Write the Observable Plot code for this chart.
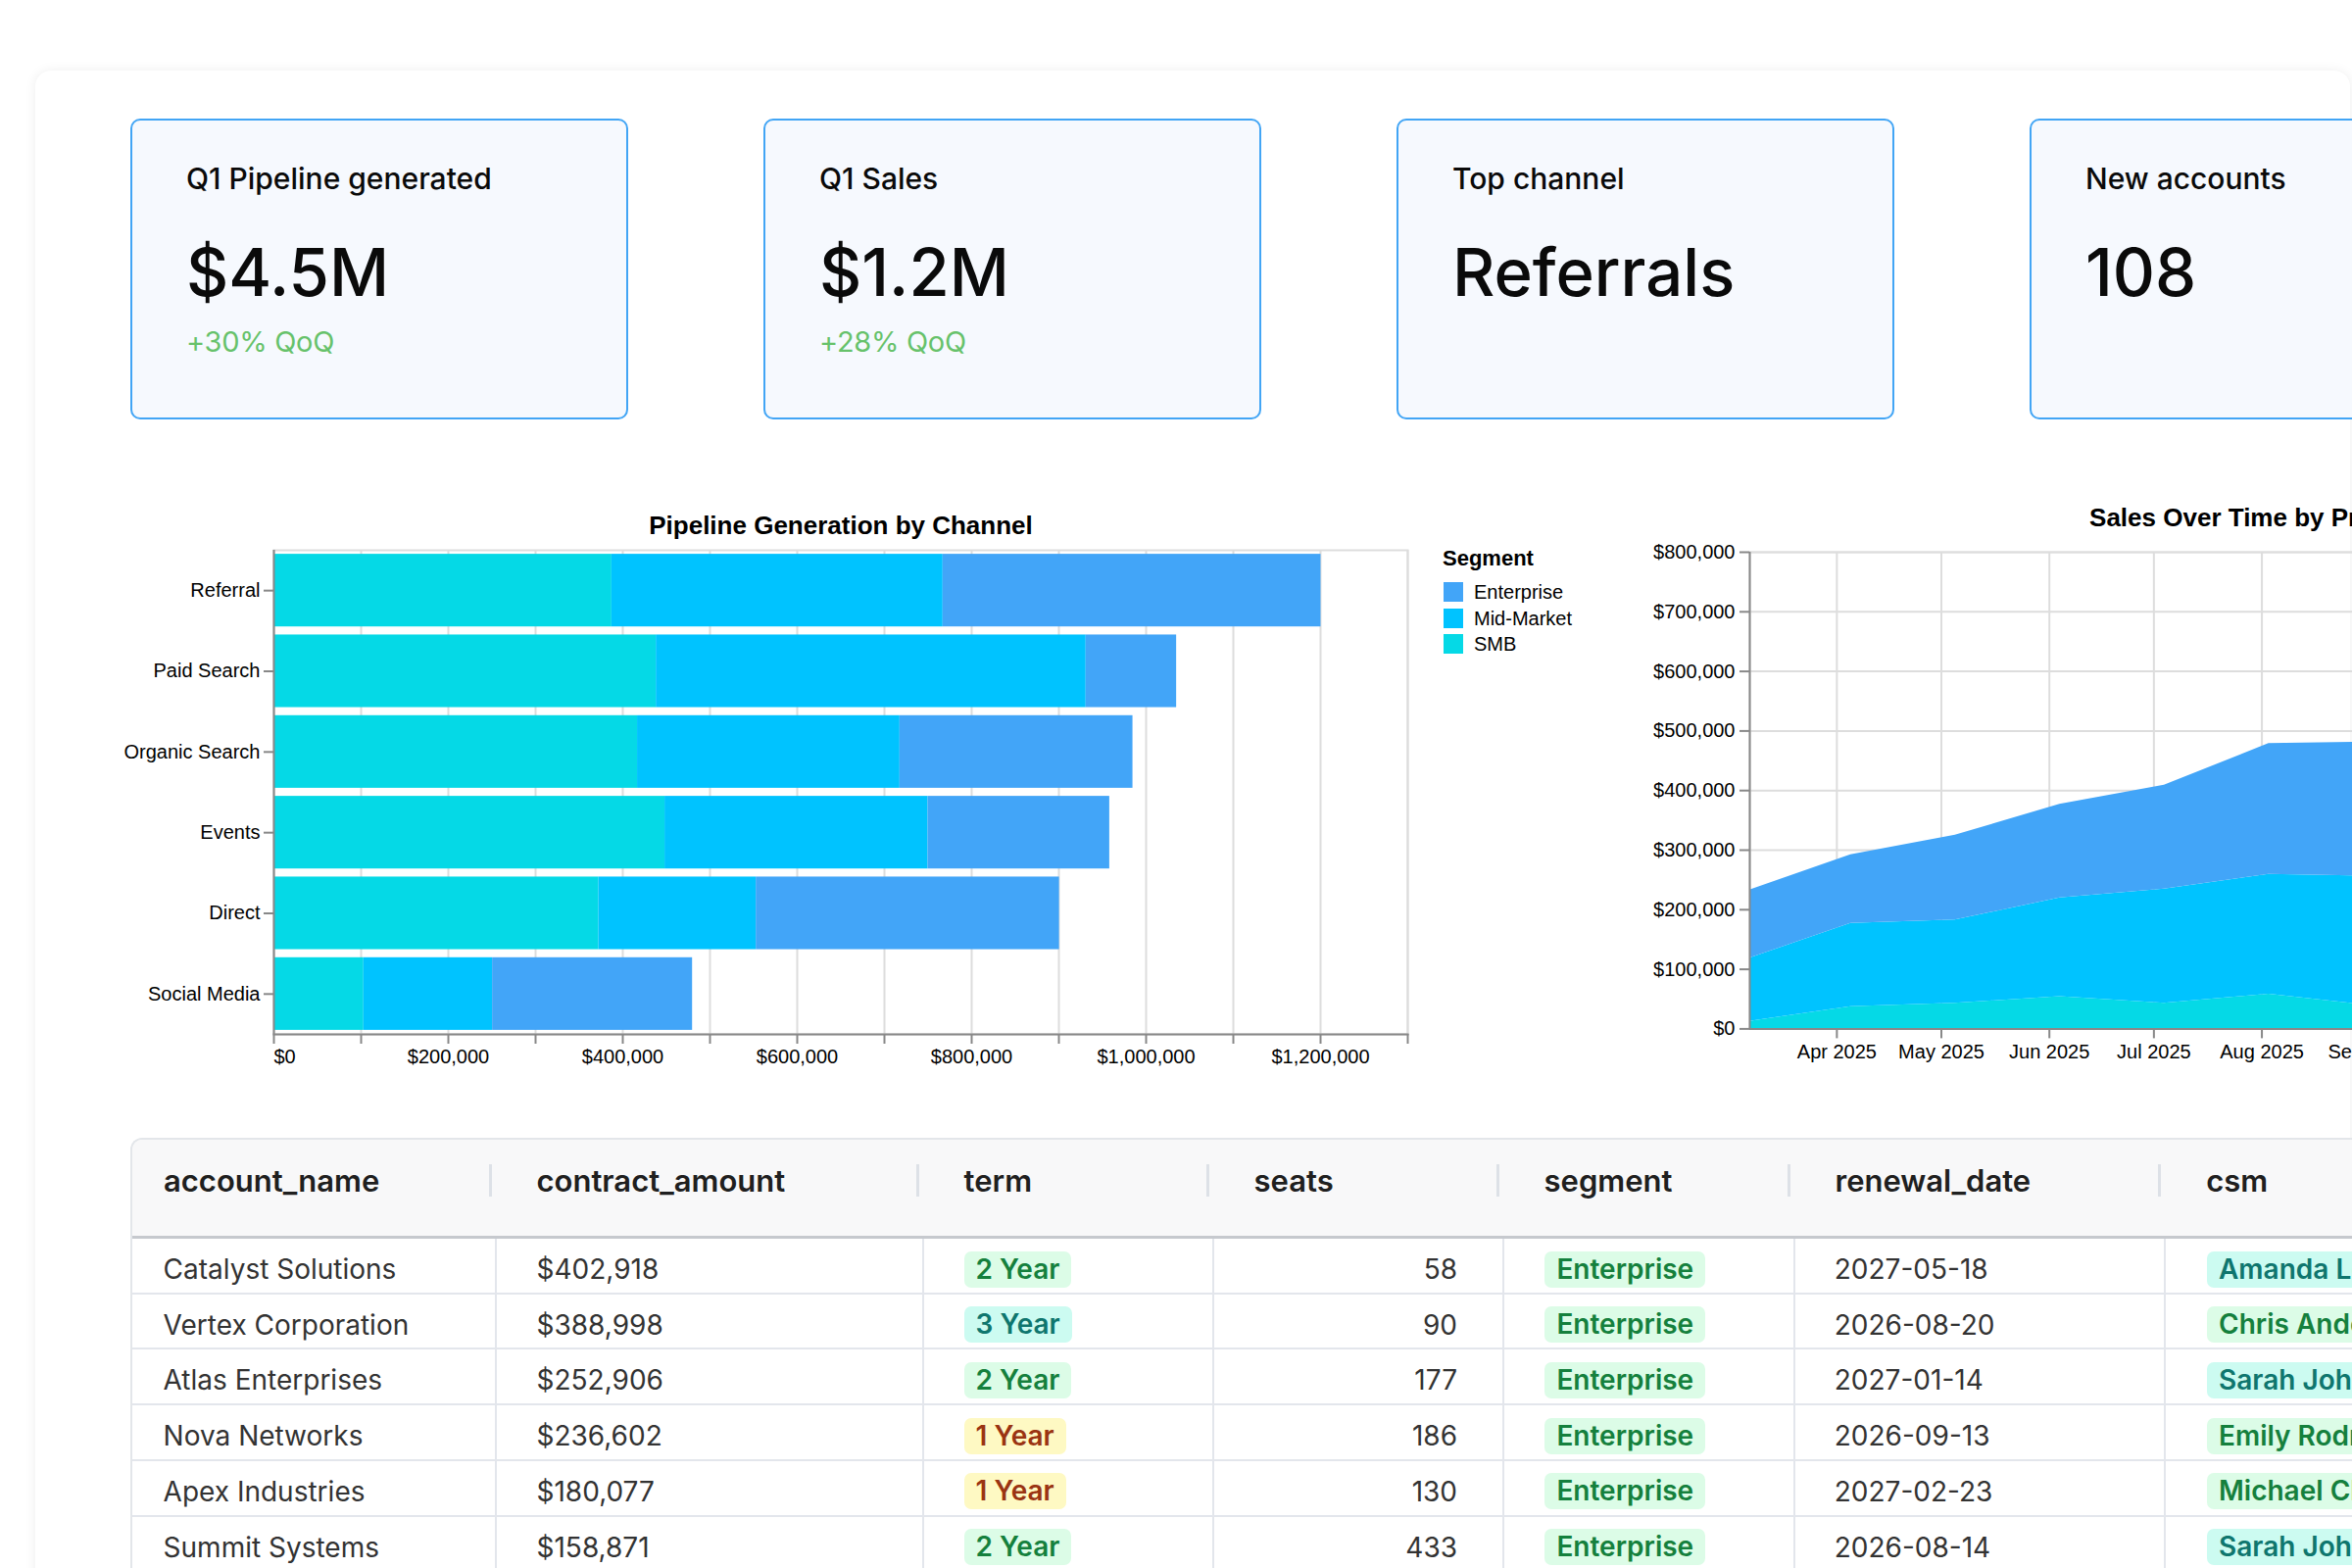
<!DOCTYPE html>
<html>
<head>
<meta charset="utf-8">
<script src="https://cdn.jsdelivr.net/npm/d3@7"></script>
<script src="https://cdn.jsdelivr.net/npm/@observablehq/plot@0.6"></script>
<style>
html,body{margin:0;padding:0;background:#fff;}
body{width:2400px;height:1600px;overflow:hidden;position:relative;font-family:Inter,"Noto Sans",sans-serif;}
.card{position:absolute;left:36px;top:72px;width:2362px;height:1600px;background:#fff;border-radius:16px;box-shadow:0 0 12px rgba(0,0,0,0.07);}
.kpi{position:absolute;top:121px;width:508px;height:307px;box-sizing:border-box;border:2px solid #42a5f5;border-radius:10px;background:#f6f9fe;}
.kpi div{position:absolute;left:55px;line-height:1;white-space:nowrap;color:#0a0a0a;}
.kpi .lab{top:44px;font-size:30px;font-weight:500;letter-spacing:0;}
.kpi .val{top:121px;font-size:67px;font-weight:500;letter-spacing:0;}
.kpi .dlt{top:211px;font-size:29px;font-weight:400;color:#67c26b;letter-spacing:-0.3px;}
.chart{position:absolute;}
.chart svg{max-width:none !important;}
.legend{position:absolute;left:1472px;top:559px;font-family:"Liberation Sans",Arial,sans-serif;color:#000;}
.legend .lt{font-size:22px;font-weight:bold;line-height:1;}
.legend .it{position:absolute;left:0;width:200px;height:20px;font-size:20px;line-height:20px;white-space:nowrap;}
.legend .sw{position:absolute;left:1px;top:0;width:20px;height:20px;}
.legend .tx{position:absolute;left:32px;top:0;}
.tbl{position:absolute;left:133px;top:1161px;width:2400px;height:600px;box-sizing:border-box;border:2px solid #e3e6ea;border-right:none;border-bottom:none;border-radius:12px 0 0 0;overflow:hidden;background:#fff;}
.abs{position:absolute;white-space:nowrap;line-height:1;}
.hdr{font-size:31px;font-weight:600;color:#1f1f1f;}
.cell{font-size:28px;font-weight:400;color:#333;}
.badge{font-size:28px;font-weight:600;height:37px;line-height:37px;padding:0 12px;border-radius:7px;}
.green{background:#dcfce7;color:#15803d;}
.teal{background:#ccfbf1;color:#0f766e;}
.yellow{background:#fef9c3;color:#9a3412;}
</style>
</head>
<body>
<div class="card"></div>
<div id="kpis"></div>
<div id="bar" class="chart" style="left:60px;top:500px;width:1400px;height:600px;"></div>
<div id="legend" class="legend"></div>
<div id="area" class="chart" style="left:1640px;top:500px;width:1203px;height:600px;"></div>
<div id="tbl" class="tbl"></div>
<script>
// ---------------- KPI data ----------------
const kpiLabels = ["Q1 Pipeline generated", "Q1 Sales", "Top channel", "New accounts"];
const kpiValues = ["$4.5M", "$1.2M", "Referrals", "108"];
const kpiDeltas = ["+30% QoQ", "+28% QoQ", "", ""];

// ---------------- Pipeline by channel ----------------
const channels = ["Referral", "Paid Search", "Organic Search", "Events", "Direct", "Social Media"];
const smbPipeline = [387500, 438400, 416900, 448400, 372500, 103100];
const midPipeline = [379700, 492800, 300900, 301600, 180500, 147600];
const entPipeline = [433300, 103800, 267100, 208300, 347700, 229300];
const segmentNames = ["Enterprise", "Mid-Market", "SMB"];
const segmentColors = ["#42a5f8", "#00c3ff", "#05d9e6"];

// ---------------- Sales over time ----------------
const salesDates = ["2025-03-07", "2025-04-05", "2025-05-05", "2025-06-04", "2025-07-04", "2025-08-03", "2025-09-02"];
const smbSales = [12700, 37300, 42900, 54000, 42900, 58200, 38800];
const midSales = [105900, 139700, 139800, 166000, 191800, 201200, 217200];
const entSales = [114400, 115000, 142300, 157000, 174300, 219400, 225600];

// ---------------- Table ----------------
const tableColumns = ["account_name", "contract_amount", "term", "seats", "segment", "renewal_date", "csm"];
const accountNames = ["Catalyst Solutions", "Vertex Corporation", "Atlas Enterprises", "Nova Networks", "Apex Industries", "Summit Systems"];
const contractAmounts = [402918, 388998, 252906, 236602, 180077, 158871];
const terms = ["2 Year", "3 Year", "2 Year", "1 Year", "1 Year", "2 Year"];
const seats = [58, 90, 177, 186, 130, 433];
const accountSegments = ["Enterprise", "Enterprise", "Enterprise", "Enterprise", "Enterprise", "Enterprise"];
const renewalDates = ["2027-05-18", "2026-08-20", "2027-01-14", "2026-09-13", "2027-02-23", "2026-08-14"];
const csms = ["Amanda Lee", "Chris Anderson", "Sarah Johnson", "Emily Rodriguez", "Michael Chen", "Sarah Johnson"];

const fmtUSD = d3.format("$,");

// KPI cards
const kpiLefts = [133, 779, 1425, 2071];
const kpis = document.getElementById("kpis");
kpiLabels.forEach((l, i) => {
  const b = document.createElement("div");
  b.className = "kpi";
  b.style.left = kpiLefts[i] + "px";
  b.innerHTML = `<div class="lab">${l}</div><div class="val">${kpiValues[i]}</div>` +
    (kpiDeltas[i] ? `<div class="dlt">${kpiDeltas[i]}</div>` : "");
  kpis.appendChild(b);
});

const labelFont = "'Liberation Sans', Arial, Helvetica, sans-serif";
const svgStyle = {fontFamily: labelFont, fontSize: "20px", color: "#000", background: "transparent", overflow: "visible", maxWidth: "none"};

// Bar chart
const pipeline = channels.flatMap((c, i) => [
  {channel: c, segment: "SMB", value: smbPipeline[i]},
  {channel: c, segment: "Mid-Market", value: midPipeline[i]},
  {channel: c, segment: "Enterprise", value: entPipeline[i]}
]);
const barTicks = d3.range(0, 1300001, 100000);
const bar = Plot.plot({
  width: 1400, height: 600,
  marginLeft: 219, marginRight: 24, marginTop: 61, marginBottom: 45,
  style: svgStyle,
  x: {domain: [0, 1300000], axis: null, label: null},
  y: {domain: channels, paddingInner: 0.1, paddingOuter: 0.05, round: false, axis: null, label: null},
  color: {domain: segmentNames, range: segmentColors},
  marks: [
    Plot.gridX(barTicks, {stroke: "#ddd", strokeOpacity: 1, strokeWidth: 2}),
    Plot.frame({stroke: "#ddd", strokeWidth: 2}),
    Plot.barX(pipeline, {x: "value", y: "channel", fill: "segment"}),
    Plot.axisX(barTicks.slice(1), {label: null, tickSize: 10, tickPadding: 5, stroke: "#888", strokeWidth: 2, fill: "#000", fontSize: 20,
      tickFormat: d => (d % 200000 === 0) ? fmtUSD(d) : ""}),
    Plot.axisX([0], {label: null, tickSize: 10, tickPadding: 5, stroke: "#888", strokeWidth: 2, fill: "#000", fontSize: 20, textAnchor: "start", tickFormat: fmtUSD}),
    Plot.frame({anchor: "bottom", stroke: "#888", strokeWidth: 2}),
    Plot.ruleX([0], {stroke: "#888", strokeWidth: 2}),
    Plot.axisY({label: null, tickSize: 10, tickPadding: 4, stroke: "#888", strokeWidth: 2, fill: "#000", fontSize: 20}),
    Plot.text(["Pipeline Generation by Channel"], {frameAnchor: "top", dy: -17, lineAnchor: "bottom", fontSize: 26, fontWeight: "bold", fill: "#000"})
  ]
});
document.getElementById("bar").appendChild(bar);

// Legend
const lg = document.getElementById("legend");
lg.innerHTML = `<div class="lt">Segment</div>`;
const legendTops = [35, 61.5, 88];
segmentNames.forEach((s, i) => {
  const it = document.createElement("div");
  it.className = "it";
  it.style.top = legendTops[i] + "px";
  it.innerHTML = `<div class="sw" style="background:${segmentColors[i]}"></div><div class="tx">${s}</div>`;
  lg.appendChild(it);
});

// Area chart
const sales = salesDates.flatMap((d, i) => [
  {date: new Date(d), segment: "SMB", value: smbSales[i]},
  {date: new Date(d), segment: "Mid-Market", value: midSales[i]},
  {date: new Date(d), segment: "Enterprise", value: entSales[i]}
]);
const x0 = new Date("2025-03-07"), x1 = new Date("2025-12-24");
const monthTicks = d3.utcMonths(new Date("2025-04-01"), x1);
const yTicks = d3.range(0, 800001, 100000);
const area = Plot.plot({
  width: 1203, height: 600,
  marginLeft: 145, marginRight: 20, marginTop: 63, marginBottom: 50.6,
  style: svgStyle,
  x: {type: "utc", domain: [x0, x1], axis: null, label: null},
  y: {domain: [0, 800000], axis: null, label: null},
  color: {domain: segmentNames, range: segmentColors},
  marks: [
    Plot.gridY(yTicks, {stroke: "#ddd", strokeOpacity: 1, strokeWidth: 2}),
    Plot.gridX(monthTicks, {stroke: "#ddd", strokeOpacity: 1, strokeWidth: 2}),
    Plot.frame({stroke: "#ddd", strokeWidth: 2}),
    Plot.areaY(sales, {x: "date", y: "value", fill: "segment", z: "segment"}),
    Plot.axisX(monthTicks, {label: null, tickSize: 10, tickPadding: 6, stroke: "#888", strokeWidth: 2, fill: "#000", fontSize: 20, tickFormat: d3.utcFormat("%b %Y")}),
    Plot.axisY(yTicks, {label: null, tickSize: 10, tickPadding: 5, stroke: "#888", strokeWidth: 2, fill: "#000", fontSize: 20, tickFormat: fmtUSD}),
    Plot.ruleY([0], {stroke: "#888", strokeWidth: 2}),
    Plot.ruleX([x0], {stroke: "#888", strokeWidth: 2}),
    Plot.text(["Sales Over Time by Product"], {frameAnchor: "top", dy: -27, lineAnchor: "bottom", fontSize: 26, fontWeight: "bold", fill: "#000"})
  ]
});
document.getElementById("area").appendChild(area);

// Table
const T = document.getElementById("tbl");
const ox = 135, oy = 1163; // inner origin of the table container (page coords)
const colX = [133, 505.5, 941.6, 1237.6, 1533.6, 1830.5, 2209.2, 2700];
function add(cls, html, x, y, extra) {
  const d = document.createElement("div");
  d.className = "abs " + cls;
  d.innerHTML = html;
  d.style.left = (x - ox) + "px";
  d.style.top = (y - oy) + "px";
  if (extra) Object.assign(d.style, extra);
  T.appendChild(d);
  return d;
}
add("", "", 133, 1161, {width: "2400px", height: "100px", background: "#f8f8f9"});
add("", "", 133, 1261, {width: "2400px", height: "3px", background: "#c6c9ce"});
tableColumns.forEach((c, i) => {
  add("hdr", c, colX[i] + (i === 0 ? 34 : 42), 1189);
  if (i > 0) add("", "", colX[i] - 7, 1188, {width: "3px", height: "33px", background: "#dde1e7"});
});
const rowH = 56.7, row0 = 1264;
for (let i = 1; i < 7; i++) add("", "", colX[i] - 1, row0, {width: "2px", height: "400px", background: "#e3e6ec"});
const toneTerm = {"1 Year": "yellow", "2 Year": "green", "3 Year": "teal"};
const toneSeg = {"Enterprise": "green", "Mid-Market": "teal", "SMB": "yellow"};
const toneCsm = {"Amanda Lee": "teal", "Sarah Johnson": "teal", "Chris Anderson": "green", "Emily Rodriguez": "green", "Michael Chen": "green"};
accountNames.forEach((name, r) => {
  const top = row0 + r * rowH;
  add("", "", 133, top + rowH - 2, {width: "2400px", height: "2px", background: "#e3e6ec"});
  const ty = top + 17;
  const by = top + 12.5;
  add("cell", name, colX[0] + 33.6, ty);
  add("cell", fmtUSD(contractAmounts[r]), colX[1] + 42, ty);
  add("badge " + toneTerm[terms[r]], terms[r], colX[2] + 42, by);
  add("cell", String(seats[r]), 0, ty, {left: "auto", right: (2400 - (1489 - ox)) + "px"});
  add("badge " + toneSeg[accountSegments[r]], accountSegments[r], colX[4] + 42.8, by);
  add("cell", renewalDates[r], colX[5] + 41.3, ty);
  add("badge " + (toneCsm[csms[r]] || "green"), csms[r], colX[6] + 42.8, by);
});
</script>
</body>
</html>
